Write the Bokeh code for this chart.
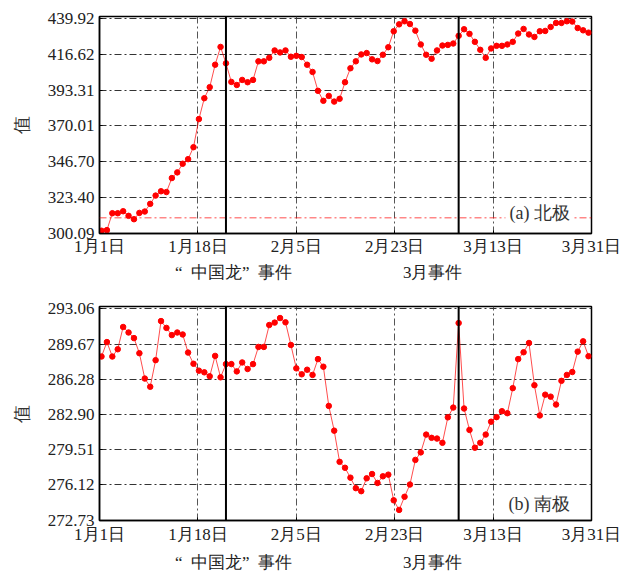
from bokeh.plotting import figure
from bokeh.layouts import column
from bokeh.models import (FixedTicker, LinearAxis, Span, Label, Range1d,
                          PrintfTickFormatter, CustomJSTickFormatter)
from bokeh.embed import file_html
from bokeh.resources import INLINE

# Daily index, 1 Jan .. 31 Mar 2012 (91 days)
days = list(range(91))

date_labels = ["1月1日", "1月18日", "2月5日", "2月23日", "3月13日", "3月31日"]
event_days = [23, 66]
event_names = ["“\u2002中国龙”\u2002事件", "3月事件"]

north = [301.8, 302.2, 313.2, 313.2, 314.5, 311.5, 309.3, 313.4, 314.3, 319.3,
         324.7, 327.5, 327.0, 336.1, 339.8, 345.4, 348.4, 356.2, 374.5, 388.1,
         395.3, 409.9, 421.5, 410.8, 398.7, 396.7, 400.0, 398.5, 400.0, 412.1,
         412.1, 414.4, 419.2, 417.9, 419.2, 415.1, 415.7, 414.9, 409.9, 405.2,
         392.9, 386.4, 389.6, 385.9, 387.7, 398.5, 407.6, 412.1, 416.6, 417.5,
         413.4, 412.3, 416.4, 421.3, 431.7, 436.2, 438.2, 436.4, 432.1, 423.1,
         416.4, 413.8, 419.2, 422.4, 422.8, 423.7, 428.7, 433.0, 430.0, 424.8,
         419.6, 414.4, 420.5, 422.2, 422.2, 423.1, 424.8, 430.2, 433.2, 429.6,
         428.0, 431.7, 431.9, 434.5, 437.1, 437.1, 438.2, 438.0, 433.8, 432.3,
         430.8]

south = [288.47, 289.86, 288.47, 289.17, 291.31, 290.78, 290.24, 288.79, 286.35, 285.56,
         288.12, 291.88, 291.22, 290.53, 290.78, 290.59, 288.85, 287.77, 287.11, 286.95,
         286.57, 288.53, 286.47, 287.74, 287.74, 287.04, 287.90, 287.27, 287.74, 289.39,
         289.39, 291.50, 291.73, 292.17, 291.76, 289.58, 287.33, 286.76, 287.20, 286.70,
         288.22, 287.49, 283.72, 281.34, 278.34, 277.77, 276.82, 275.81, 275.52, 276.76,
         277.17, 276.31, 276.95, 277.11, 274.64, 273.72, 274.98, 276.16, 278.53, 279.25,
         280.96, 280.65, 280.58, 280.17, 282.62, 283.56, 291.69, 283.47, 281.41, 279.70,
         280.17, 280.96, 282.20, 282.64, 283.21, 283.02, 285.43, 288.22, 288.88, 289.77,
         285.71, 282.80, 284.80, 284.61, 283.85, 286.13, 286.70, 286.98, 288.94, 289.93,
         288.50]

north_ticks = [300.09, 323.40, 346.70, 370.01, 393.31, 416.62, 439.92]
south_ticks = [272.73, 276.12, 279.51, 282.90, 286.28, 289.67, 293.06]
north_threshold = 310.2

SERIF = "Liberation Serif"
TXT = "#222222"
X0, X1 = -0.37, 90.55
GRID_DASH = "7 3 2 3"


def panel(values, yticks, y0, y1, tag, tag_y, height, border_top, border_bottom,
          date_standoff, event_standoff, threshold=None):
    p = figure(width=630, height=height, output_backend="svg", toolbar_location=None,
               x_range=Range1d(X0, X1), y_range=Range1d(y0, y1),
               min_border_left=99, min_border_right=39, min_border_top=border_top,
               min_border_bottom=border_bottom)
    p.background_fill_color = "white"
    p.border_fill_color = "white"
    p.outline_line_color = "black"
    p.outline_line_width = 1.5
    p.outline_line_alpha = 1.0

    step = (X1 - X0) / 5
    xticks = [X0 + k * step for k in range(6)]

    xa = p.xaxis[0]
    xa.ticker = FixedTicker(ticks=xticks)
    xa.formatter = CustomJSTickFormatter(args=dict(labels=date_labels),
                                         code="return labels[index];")
    ya = p.yaxis[0]
    ya.ticker = FixedTicker(ticks=yticks)
    ya.formatter = PrintfTickFormatter(format="%.2f")
    ya.axis_label = "值"
    ya.axis_label_text_font = SERIF
    ya.axis_label_text_font_style = "normal"
    ya.axis_label_text_font_size = "18px"
    ya.axis_label_text_color = "#333333"
    ya.axis_label_standoff = 13
    for ax in (xa, ya):
        ax.axis_line_color = "black"
        ax.axis_line_width = 1.5
        ax.major_tick_in = 3
        ax.major_tick_out = 0
        ax.minor_tick_line_color = None
        ax.major_label_text_font = SERIF
        ax.major_label_text_font_size = "17px"
        ax.major_label_text_color = TXT
        ax.major_label_standoff = 5
    xa.major_label_standoff = date_standoff

    # second row of x labels naming the two events
    ev = LinearAxis(ticker=FixedTicker(ticks=[event_days[0] + 1.4, event_days[1] - 4.8]),
                    formatter=CustomJSTickFormatter(args=dict(labels=event_names),
                                                    code="return labels[index];"))
    ev.axis_line_color = None
    ev.major_tick_line_color = None
    ev.minor_tick_line_color = None
    ev.major_label_text_font = SERIF
    ev.major_label_text_font_size = "17px"
    ev.major_label_text_color = TXT
    ev.major_label_standoff = event_standoff
    p.add_layout(ev, "below")

    p.ygrid.ticker = FixedTicker(ticks=yticks)
    p.ygrid.grid_line_color = "#333333"
    p.ygrid.grid_line_dash = GRID_DASH
    p.ygrid.grid_line_width = 1
    p.xgrid.ticker = FixedTicker(ticks=xticks[1:-1])
    p.xgrid.grid_line_color = "#555555"
    p.xgrid.grid_line_dash = GRID_DASH
    p.xgrid.grid_line_width = 1

    if threshold is not None:
        p.add_layout(Span(location=threshold, dimension="width", line_color="red",
                          line_alpha=0.7, line_width=1, line_dash=GRID_DASH))

    for d in event_days:
        p.add_layout(Span(location=d, dimension="height", line_color="black", line_width=2))

    p.line(days, values, line_color="red", line_width=1, line_alpha=0.7)
    p.scatter(days, values, size=5.5, fill_color="red", line_color="red")

    p.add_layout(Label(x=87.3, y=tag_y, text=tag, text_align="right",
                       text_baseline="middle", text_font=SERIF, text_font_size="18px",
                       text_color="#333333", background_fill_color="white",
                       background_fill_alpha=1.0, padding=4))
    return p


top = panel(north, north_ticks, 300.0, 441.3, "(a) 北极", 313.2, 288, 16, 55, 3, -2,
            threshold=north_threshold)
bottom = panel(south, south_ticks, 272.70, 293.28, "(b) 南极", 274.3, 286, 18, 52, 4, 0)

layout = column(top, bottom, spacing=0)
open("out.html", "w").write(file_html(layout, INLINE))
